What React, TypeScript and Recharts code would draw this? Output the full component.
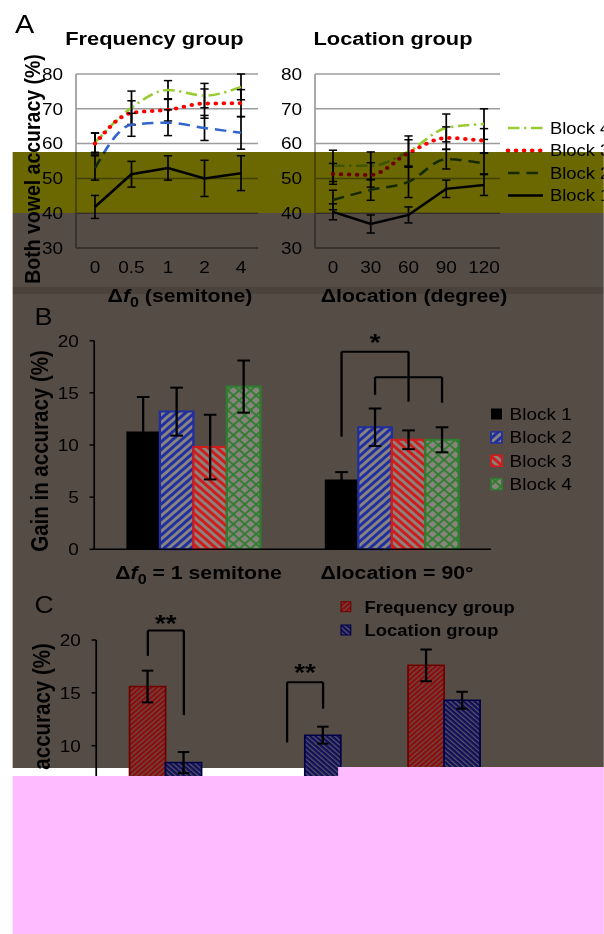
import React from 'react';
import {
  LineChart, Line, XAxis, YAxis, CartesianGrid, ErrorBar,
  BarChart, Bar, ReferenceLine, ReferenceDot,
} from 'recharts';

// horizontal stretch of the original figure
const S = 1.15;
const X = (v: number) => v / S;
const W = 604 / S;
const FONT = '"Liberation Sans", Arial, Helvetica, sans-serif';

// ---------------- Panel A data ----------------
const freqSteps = ['0', '0.5', '1', '2', '4'];
const freqBlock1 = [41.8, 51.2, 53.0, 50.0, 51.5];
const freqBlock1Err = [3.3, 3.7, 3.5, 5.2, 5.0];
const freqBlock2 = [53.0, 65.4, 66.0, 64.5, 63.1];
const freqBlock2Err = [3.5, 3.3, 3.7, 3.6, 4.7];
const freqBlock3 = [60.0, 68.8, 69.7, 71.5, 71.6];
const freqBlock3Err = [3.0, 3.5, 3.2, 4.2, 3.9];
const freqBlock4 = [60.3, 70.3, 75.4, 73.8, 76.3];
const freqBlock4Err = [2.8, 4.8, 2.7, 3.5, 3.7];

const locSteps = ['0', '30', '60', '90', '120'];
const locBlock1 = [40.4, 36.9, 39.5, 47.0, 48.1];
const locBlock1Err = [2.3, 2.6, 2.3, 2.5, 3.0];
const locBlock2 = [43.8, 46.7, 49.0, 55.5, 54.3];
const locBlock2Err = [2.8, 3.0, 4.5, 2.8, 3.0];
const locBlock3 = [51.3, 51.0, 57.3, 61.6, 60.8];
const locBlock3Err = [3.0, 3.5, 3.8, 3.2, 3.5];
const locBlock4 = [53.6, 53.6, 57.7, 64.5, 65.6];
const locBlock4Err = [4.5, 4.0, 4.5, 4.0, 4.4];

const blockNames = ['Block 1', 'Block 2', 'Block 3', 'Block 4'];
const accuracyTicks = [30, 40, 50, 60, 70, 80];
const panelATitles = ['Frequency group', 'Location group'];
const panelAXTitles = ['Δf0 (semitone)', 'Δlocation (degree)'];

// ---------------- Panel B data ----------------
const gainGroups = ['Δf0 = 1 semitone', 'Δlocation = 90°'];
const gainBlock1 = [11.3, 6.7];
const gainBlock1Err = [3.3, 0.7];
const gainBlock2 = [13.2, 11.7];
const gainBlock2Err = [2.3, 1.8];
const gainBlock3 = [9.8, 10.5];
const gainBlock3Err = [3.1, 0.9];
const gainBlock4 = [15.6, 10.5];
const gainBlock4Err = [2.5, 1.2];
const gainTicks = [0, 5, 10, 15, 20];

// ---------------- Panel C data ----------------
const cueGroups = ['Δf0', 'Δlocation', 'Δf0 + Δlocation'];
const groupNames = ['Frequency group', 'Location group'];
const cueFreq = [15.6, 4.6, 17.6];
const cueFreqErr = [1.5, 1.0, 1.5];
const cueLoc = [8.4, 11.0, 14.3];
const cueLocErr = [1.0, 0.8, 0.8];

// significance annotations (values in % gain)
const sigB = { group: 1, outerTop: 18.95, outerLeftBottom: 10.8, outerRightBottom: 14.15, innerTop: 16.5, innerLeftBottom: 14.8, innerRightBottom: 14.05, starY: 19.8, label: '*' };
const sigC = [
  { group: 0, top: 20.9, leftBottom: 18.5, rightBottom: 12.9, starY: 21.6, label: '**' },
  { group: 1, top: 16.0, leftBottom: 10.3, rightBottom: 13.5, starY: 16.9, label: '**' },
];

// ---------------- styles ----------------
const lineStyles = [
  { color: '#000000', dash: undefined as string | undefined, width: 2.5, type: 'linear', cap: 'butt' },
  { color: '#3366cc', dash: '10 6', width: 2.5, type: 'monotone', cap: 'butt' },
  { color: '#ff0000', dash: '0 7', width: 4, type: 'monotone', cap: 'round' },
  { color: '#99cc33', dash: '10 4 2 4', width: 2.5, type: 'monotone', cap: 'butt' },
];
const barStyles = [
  { fill: '#000000', stroke: 'none' },
  { fill: 'url(#hB2)', stroke: '#1f2fa0' },
  { fill: 'url(#hB3)', stroke: '#d01c1c' },
  { fill: 'url(#hB4)', stroke: '#2f7d2f' },
];
const cueStyles = [
  { fill: 'url(#hC1)', stroke: '#6e0000' },
  { fill: 'url(#hC2)', stroke: '#00004a' },
];
const OLIVE = '#6b6802';
const BROWN = '#564c46';
const DARK = '#4b423c';
const PINK = '#ffbbff';

const makeAccData = (steps: string[], vals: number[][], errs: number[][]) =>
  steps.map((step, i) => ({
    step,
    b1: vals[0][i], e1: errs[0][i],
    b2: vals[1][i], e2: errs[1][i],
    b3: vals[2][i], e3: errs[2][i],
    b4: vals[3][i], e4: errs[3][i],
  }));

const freqData = makeAccData(freqSteps,
  [freqBlock1, freqBlock2, freqBlock3, freqBlock4],
  [freqBlock1Err, freqBlock2Err, freqBlock3Err, freqBlock4Err]);
const locData = makeAccData(locSteps,
  [locBlock1, locBlock2, locBlock3, locBlock4],
  [locBlock1Err, locBlock2Err, locBlock3Err, locBlock4Err]);

const gainData = gainGroups.map((group, i) => ({
  group,
  b1: gainBlock1[i], e1: gainBlock1Err[i],
  b2: gainBlock2[i], e2: gainBlock2Err[i],
  b3: gainBlock3[i], e3: gainBlock3Err[i],
  b4: gainBlock4[i], e4: gainBlock4Err[i],
}));
const cueData = cueGroups.map((cue, i) => ({
  cue, freq: cueFreq[i], efreq: cueFreqErr[i], loc: cueLoc[i], eloc: cueLocErr[i],
}));

// label with italic f and subscript 0
const deltaLabel = (label: string, sub = 13) => {
  if (label.startsWith('Δf0')) {
    return [
      <tspan key="a">Δ</tspan>,
      <tspan key="b" fontStyle="italic">f</tspan>,
      <tspan key="c" fontSize={sub} dy={5}>0</tspan>,
      <tspan key="d" dy={-5}>{label.slice(3)}</tspan>,
    ];
  }
  return label;
};

const tickFont = { fontSize: 16.5, fill: '#000', fontFamily: FONT };

// ---------------- Panel A chart ----------------
type AccProps = { data: any[]; left: number; width: number; plotLeft: number; plotRight: number; firstPoint: number; lastPoint: number };
const AccuracyChart = ({ data, left, width, plotLeft, plotRight, firstPoint, lastPoint }: AccProps) => (
  <div style={{ position: 'absolute', left, top: 0 }}>
    <LineChart width={width} height={300} data={data}
      margin={{ top: 74, right: left + width - plotRight, bottom: 22, left: plotLeft - left - 50 }}>
      <CartesianGrid vertical={false} stroke="#9c9c9c" strokeWidth={1.5} />
      <XAxis dataKey="step" interval={0} height={30}
        padding={{ left: firstPoint - plotLeft, right: plotRight - lastPoint }}
        axisLine={{ stroke: '#9c9c9c', strokeWidth: 1.5 }} tickLine={false} tickSize={0} tickMargin={13}
        tick={tickFont} />
      <YAxis width={50} domain={[30, 80]} ticks={accuracyTicks} interval={0}
        axisLine={{ stroke: '#9c9c9c', strokeWidth: 1.5 }} tickLine={false} tickSize={0} tickMargin={11.3}
        tick={tickFont} />
      {[3, 2, 1, 0].map((k) => {
        const st = lineStyles[k];
        return (
          <Line key={k} dataKey={`b${k + 1}`} type={st.type as any} stroke={st.color}
            strokeWidth={st.width} strokeDasharray={st.dash} strokeLinecap={st.cap as any}
            dot={false} activeDot={false} isAnimationActive={false}>
            <ErrorBar dataKey={`e${k + 1}`} width={3.6} stroke="#000" strokeWidth={1.5} direction="y" isAnimationActive={false} />
          </Line>
        );
      })}
    </LineChart>
  </div>
);

// hidden slot axis: its domain spans the category indices [0, N-1] across the plot width;
// a band-relative position v (band i covers [i, i+1]) maps to v * (N-1)/N on it.
const toSlot = (v: number, n: number) => (v * (n - 1)) / n;

// ---------------- Panel B chart ----------------
const B_L = X(94.2), B_R = X(491), BAR_B = X(33.5), B_W = 440;
const NB = gainGroups.length;
const bsB = BAR_B / ((B_R - B_L) / NB);
const cB = (g: number, k: number) => toSlot(g + 0.5 + (k - 1.5) * bsB, NB);

const C_L = X(96.2), C_R = X(514), BAR_C = X(36), C_W = 460;
const NC = cueGroups.length;
const bsC = BAR_C / ((C_R - C_L) / NC);
const cC = (g: number, k: number) => toSlot(g + 0.5 + (k - 0.5) * bsC, NC);

const polyline = (pts: { x: number; y: number }[], key: string) =>
  pts.slice(1).map((p, i) => (
    <ReferenceLine key={`${key}${i}`} xAxisId="n" segment={[pts[i], p]} stroke="#000" strokeWidth={2} ifOverflow="visible" />
  ));

const GroupTick = (props: any) => {
  const { x, y, payload } = props;
  return (
    <text x={x + 4.5} y={y + 30} textAnchor="middle" fontWeight="bold" fontSize={18.5} fontFamily={FONT} fill="#000">
      {deltaLabel(payload.value, 14)}
    </text>
  );
};

const GainChart = () => {
  const g = sigB.group;
  const mid = (cB(g, 1) + cB(g, 3)) / 2;
  return (
    <div style={{ position: 'absolute', left: 0, top: 300 }}>
      <BarChart width={B_W} height={300} data={gainData} barSize={BAR_B} barGap={0}
        margin={{ top: 40.7, right: B_W - B_R, bottom: 10.7, left: B_L - 50 }}>
        <XAxis dataKey="group" interval={0} height={40} axisLine={{ stroke: '#000', strokeWidth: 1.5 }}
          tickLine={false} tickSize={0} tickMargin={0} tick={(p: any) => <GroupTick {...p} />} />
        <XAxis xAxisId="n" type="number" domain={[0, NB - 1]} allowDataOverflow hide />
        <YAxis width={50} domain={[0, 20]} ticks={gainTicks} interval={0}
          axisLine={{ stroke: '#000', strokeWidth: 1.5 }} tickLine={{ stroke: '#000', strokeWidth: 1.5 }}
          tickSize={4} tickMargin={9.4} tick={tickFont} />
        {barStyles.map((st, k) => (
          <Bar key={k} dataKey={`b${k + 1}`} fill={st.fill} stroke={st.stroke} strokeWidth={2} isAnimationActive={false}>
            <ErrorBar dataKey={`e${k + 1}`} width={5.5} stroke="#000" strokeWidth={2} direction="y" isAnimationActive={false} />
          </Bar>
        ))}
        {polyline([
          { x: cB(g, 0), y: sigB.outerLeftBottom }, { x: cB(g, 0), y: sigB.outerTop },
          { x: mid, y: sigB.outerTop }, { x: mid, y: sigB.outerRightBottom },
        ], 'o')}
        {polyline([
          { x: cB(g, 1), y: sigB.innerLeftBottom }, { x: cB(g, 1), y: sigB.innerTop },
          { x: cB(g, 3), y: sigB.innerTop }, { x: cB(g, 3), y: sigB.innerRightBottom },
        ], 'i')}
        <ReferenceDot xAxisId="n" x={(cB(g, 0) + mid) / 2} y={sigB.starY} r={0} fill="none" stroke="none" ifOverflow="visible"
          label={{ value: sigB.label, position: 'center', fill: '#000', fontSize: 24, fontWeight: 'bold', fontFamily: FONT }} />
      </BarChart>
    </div>
  );
};

const CueChart = () => (
  <div style={{ position: 'absolute', left: 0, top: 590 }}>
    <BarChart width={C_W} height={300} data={cueData} barSize={BAR_C} barGap={0}
      margin={{ top: 50, right: C_W - C_R, bottom: 8.6, left: C_L - 50 }}>
      <XAxis dataKey="cue" interval={0} height={30} axisLine={{ stroke: '#000', strokeWidth: 1.5 }}
        tickLine={false} tick={tickFont} />
      <XAxis xAxisId="n" type="number" domain={[0, NC - 1]} allowDataOverflow hide />
      <YAxis width={50} domain={[0, 20]} ticks={gainTicks} interval={0}
        axisLine={{ stroke: '#000', strokeWidth: 1.5 }} tickLine={{ stroke: '#000', strokeWidth: 1.5 }}
        tickSize={4} tickMargin={9.4} tick={tickFont} />
      <Bar dataKey="freq" fill={cueStyles[0].fill} stroke={cueStyles[0].stroke} strokeWidth={1.5} isAnimationActive={false}>
        <ErrorBar dataKey="efreq" width={5} stroke="#000" strokeWidth={2} direction="y" isAnimationActive={false} />
      </Bar>
      <Bar dataKey="loc" fill={cueStyles[1].fill} stroke={cueStyles[1].stroke} strokeWidth={1.5} isAnimationActive={false}>
        <ErrorBar dataKey="eloc" width={5} stroke="#000" strokeWidth={2} direction="y" isAnimationActive={false} />
      </Bar>
      {sigC.map((s, i) => [
        ...polyline([
          { x: cC(s.group, 0), y: s.leftBottom }, { x: cC(s.group, 0), y: s.top },
          { x: cC(s.group, 1), y: s.top }, { x: cC(s.group, 1), y: s.rightBottom },
        ], `c${i}`),
        <ReferenceDot key={`s${i}`} xAxisId="n" x={toSlot(s.group + 0.5, NC)} y={s.starY} r={0} fill="none" stroke="none" ifOverflow="visible"
          label={{ value: s.label, position: 'center', fill: '#000', fontSize: 24, fontWeight: 'bold', fontFamily: FONT }} />,
      ])}
    </BarChart>
  </div>
);

const Patterns = () => (
  <svg width={0} height={0} style={{ position: 'absolute' }}>
    <defs>
      <pattern id="hB2" patternUnits="userSpaceOnUse" width={5.5} height={5.5} patternTransform="rotate(45)">
        <rect width={5.5} height={5.5} fill="#8a847e" />
        <line x1={1.4} y1={0} x2={1.4} y2={5.5} stroke="#1f2fa0" strokeWidth={2.8} />
      </pattern>
      <pattern id="hB3" patternUnits="userSpaceOnUse" width={5.5} height={5.5} patternTransform="rotate(-45)">
        <rect width={5.5} height={5.5} fill="#8a847e" />
        <line x1={1.4} y1={0} x2={1.4} y2={5.5} stroke="#d01c1c" strokeWidth={2.8} />
      </pattern>
      <pattern id="hB4" patternUnits="userSpaceOnUse" width={7} height={7} patternTransform="rotate(45)">
        <rect width={7} height={7} fill="#8a847e" />
        <line x1={1} y1={0} x2={1} y2={7} stroke="#2f7d2f" strokeWidth={1.8} />
        <line x1={0} y1={1} x2={7} y2={1} stroke="#2f7d2f" strokeWidth={1.8} />
      </pattern>
      <pattern id="hC1" patternUnits="userSpaceOnUse" width={3.4} height={3.4} patternTransform="rotate(45)">
        <rect width={3.4} height={3.4} fill="#8c0c0c" />
        <line x1={0.6} y1={0} x2={0.6} y2={3.4} stroke="#64524e" strokeWidth={1.1} />
      </pattern>
      <pattern id="hC2" patternUnits="userSpaceOnUse" width={3.4} height={3.4} patternTransform="rotate(-45)">
        <rect width={3.4} height={3.4} fill="#10105a" />
        <line x1={0.6} y1={0} x2={0.6} y2={3.4} stroke="#5c5764" strokeWidth={1.1} />
      </pattern>
    </defs>
  </svg>
);

const TextLayer = () => (
  <svg width={W} height={934} style={{ position: 'absolute', left: 0, top: 0 }} fontFamily={FONT}>
    {/* panel A */}
    <text x={13} y={33} fontSize={25} fill="#000">A</text>
    <text x={X(154.5)} y={45} fontSize={19} fontWeight="bold" textAnchor="middle">{panelATitles[0]}</text>
    <text x={X(393)} y={45} fontSize={19} fontWeight="bold" textAnchor="middle">{panelATitles[1]}</text>
    <text transform={`translate(${X(32)},169) rotate(-90)`} fontSize={19.5} fontWeight="bold" textAnchor="middle" dominantBaseline="central">Both vowel accuracy (%)</text>
    <text x={X(180)} y={302} fontSize={18.5} fontWeight="bold" textAnchor="middle">{deltaLabel(panelAXTitles[0], 14)}</text>
    <text x={X(414)} y={302} fontSize={18.5} fontWeight="bold" textAnchor="middle">{panelAXTitles[1]}</text>
    {[3, 2, 1, 0].map((k, i) => {
      const st = lineStyles[k];
      const y = 128 + i * 22.5;
      return (
        <g key={k}>
          <line x1={X(508)} x2={X(543)} y1={y} y2={y} stroke={st.color} strokeWidth={st.width}
            strokeDasharray={st.dash} strokeLinecap={st.cap as any} />
          <text x={X(550)} y={y + 6} fontSize={16}>{blockNames[k]}</text>
        </g>
      );
    })}
    {/* panel B */}
    <text x={X(34.6)} y={325} fontSize={23.5}>B</text>
    <text transform={`translate(${X(40.4)},451) rotate(-90)`} fontSize={20.5} fontWeight="bold" textAnchor="middle" dominantBaseline="central">Gain in accuracy (%)</text>
    {barStyles.map((st, k) => {
      const y = 414 + k * 23.4;
      return (
        <g key={k}>
          <rect x={X(491)} y={y - 5.5} width={9.5} height={11} fill={st.fill} stroke={st.stroke === 'none' ? undefined : st.stroke} strokeWidth={1.5} />
          <text x={X(509.6)} y={y + 6} fontSize={16.5}>{blockNames[k]}</text>
        </g>
      );
    })}
    {/* panel C */}
    <text x={X(34.6)} y={613} fontSize={23}>C</text>
    <text transform={`translate(${X(42)},744) rotate(-90)`} fontSize={20.5} fontWeight="bold" textAnchor="middle" dominantBaseline="central">Gain in accuracy (%)</text>
    {cueStyles.map((st, k) => {
      const y = 606.7 + k * 23.3;
      return (
        <g key={k}>
          <rect x={X(341)} y={y - 5} width={8.5} height={10} fill={st.fill} stroke={st.stroke} strokeWidth={1} />
          <text x={X(364.6)} y={y + 6} fontSize={16} fontWeight="bold">{groupNames[k]}</text>
        </g>
      );
    })}
  </svg>
);

export default function App() {
  const ox = X(13);
  const split = X(338);
  return (
    <div style={{ position: 'absolute', left: 0, top: 0, width: 604, height: 934, overflow: 'hidden', background: '#fff' }}>
      <div style={{ position: 'absolute', left: 0, top: 0, width: W, height: 934, transform: `scaleX(${S})`, transformOrigin: '0 0', background: '#fff', fontFamily: FONT }}>
        <Patterns />
        <div style={{ position: 'absolute', left: ox, top: 294, width: W - ox, height: 768 - 294, background: BROWN }} />
        <AccuracyChart data={freqData} left={0} width={240} plotLeft={X(76)} plotRight={X(258)} firstPoint={X(95)} lastPoint={X(241)} />
        <AccuracyChart data={locData} left={200} width={250} plotLeft={X(315)} plotRight={X(500)} firstPoint={X(333)} lastPoint={X(484)} />
        <GainChart />
        <CueChart />
        <TextLayer />
        <div style={{ position: 'absolute', left: ox, top: 152, width: W - ox, height: 61, background: OLIVE, mixBlendMode: 'multiply' }} />
        <div style={{ position: 'absolute', left: ox, top: 213, width: W - ox, height: 74, background: BROWN, mixBlendMode: 'multiply' }} />
        <div style={{ position: 'absolute', left: ox, top: 287, width: W - ox, height: 7, background: DARK, mixBlendMode: 'multiply' }} />
        <div style={{ position: 'absolute', left: ox, top: 776, width: split - ox + 1, height: 934 - 776, background: PINK }} />
        <div style={{ position: 'absolute', left: split, top: 767, width: W - split, height: 934 - 767, background: PINK }} />
      </div>
    </div>
  );
}
